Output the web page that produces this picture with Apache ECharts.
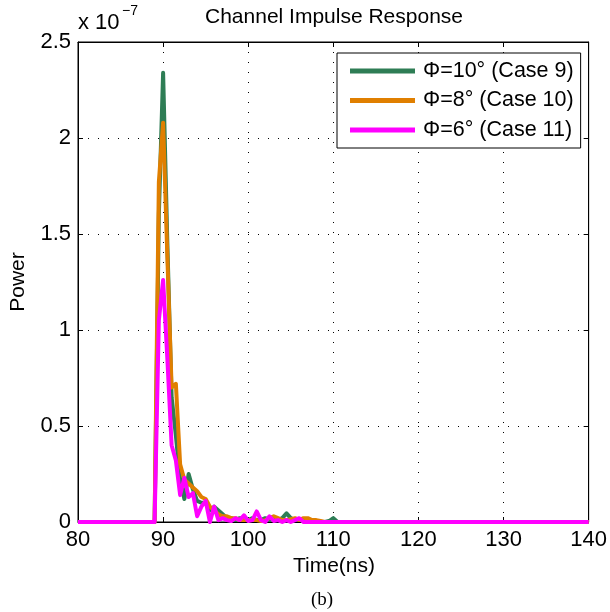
<!DOCTYPE html>
<html>
<head>
<meta charset="utf-8">
<script src="https://cdn.jsdelivr.net/npm/echarts@6/dist/echarts.min.js"></script>
<style>html,body{margin:0;padding:0;background:#fff}#chart{width:610px;height:612px}</style>
</head>
<body>
<div id="chart"></div>
<script>
// Time (ns)
const times = [80, 89, 89.5, 90, 90.5, 91, 91.5, 92, 92.5, 93, 93.5, 94, 94.5, 95, 95.5, 96, 96.5, 97, 97.5, 98, 98.5, 99, 99.5, 100, 100.5, 101, 101.5, 102, 102.5, 103, 103.5, 104, 104.5, 105, 105.5, 106, 106.5, 107, 107.5, 108, 108.5, 109, 109.5, 110, 110.5, 111, 140];
// Power in units of 1e-7
const case9 = [0, 0, 1.60, 2.34, 1.45, 0.65, 0.45, 0.22, 0.12, 0.25, 0.17, 0.11, 0.10, 0.10, 0.06, 0.08, 0.06, 0.04, 0.02, 0.02, 0.01, 0.02, 0.01, 0.01, 0.02, 0.01, 0.01, 0.02, 0.01, 0.02, 0.01, 0.02, 0.045, 0.02, 0.01, 0.01, 0.01, 0.01, 0.01, 0, 0, 0, 0.005, 0.02, 0, 0, 0];
const case10 = [0, 0, 1.77, 2.08, 1.38, 0.70, 0.72, 0.30, 0.22, 0.20, 0.18, 0.16, 0.13, 0.12, 0.08, 0.06, 0.04, 0.03, 0.03, 0.02, 0.02, 0.01, 0.01, 0.01, 0.01, 0.01, 0.005, 0.01, 0.02, 0.03, 0.02, 0.01, 0.01, 0.015, 0.02, 0.01, 0.02, 0.02, 0.01, 0.01, 0.005, 0, 0, 0, 0, 0, 0];
const case11 = [0, 0, 1.05, 1.26, 0.85, 0.40, 0.32, 0.14, 0.23, 0.13, 0.15, 0.03, 0.08, 0.11, 0.0, 0.08, 0.01, 0.02, 0.01, 0.005, 0.02, 0.01, 0.035, 0.005, 0.01, 0.055, 0.01, 0, 0.03, 0.005, 0.01, 0, 0.01, 0, 0.01, 0.02, 0, 0, 0, 0, 0, 0, 0, 0, 0, 0, 0];
const seriesNames = ['\u03A6=10\u00B0 (Case 9)', '\u03A6=8\u00B0 (Case 10)', '\u03A6=6\u00B0 (Case 11)'];
const xTicks = [80, 90, 100, 110, 120, 130, 140];
const yTicks = [0, 0.5, 1, 1.5, 2, 2.5];

const colors = ['#2E7D55', '#E07F00', '#FF00FF'];
const FONT = 'Liberation Sans, Arial, Helvetica, sans-serif';
const chart = echarts.init(document.getElementById('chart'), null, {renderer: 'canvas'});

const xMin = xTicks[0], xMax = xTicks[xTicks.length - 1], xInt = xTicks[1] - xTicks[0];
const yMin = yTicks[0], yMax = yTicks[yTicks.length - 1], yInt = yTicks[1] - yTicks[0];

const dotted = {show: true, lineStyle: {color: '#000', width: 1, type: [1, 9]}};
function axisBase(extra) {
  return Object.assign({
    type: 'value',
    axisLine: {show: true, onZero: false, lineStyle: {color: '#000', width: 1}},
    axisTick: {show: true, inside: true, length: 5, lineStyle: {color: '#000'}},
    axisLabel: {color: '#000', fontSize: 22, fontFamily: FONT},
  }, extra);
}

const option = {
  animation: false,
  backgroundColor: '#fff',
  grid: {left: 78, right: 20, top: 42, bottom: 90, show: true, borderColor: '#000', borderWidth: 1, backgroundColor: 'transparent'},
  xAxis: [
    axisBase({min: xMin, max: xMax, interval: xInt, position: 'bottom', splitLine: dotted, axisLabel: {color: '#000', fontSize: 22, fontFamily: FONT, margin: 7}}),
    axisBase({min: xMin, max: xMax, interval: xInt, position: 'top', splitLine: {show: false}, axisLabel: {show: false}})
  ],
  yAxis: [
    axisBase({min: yMin, max: yMax, interval: yInt, position: 'left', splitLine: dotted, axisLabel: {color: '#000', fontSize: 22, fontFamily: FONT, margin: 7}}),
    axisBase({min: yMin, max: yMax, interval: yInt, position: 'right', splitLine: {show: false}, axisLabel: {show: false}})
  ],
  legend: {
    left: 337, top: 53,
    orient: 'vertical',
    backgroundColor: '#fff',
    borderColor: '#000', borderWidth: 1,
    padding: [7, 7, 7, 13],
    itemWidth: 65, itemHeight: 5, itemGap: 7.5,
    icon: 'rect',
    textStyle: {color: '#000', fontSize: 21.5, fontFamily: FONT, lineHeight: 22, padding: [0, 0, 0, 3]},
    data: seriesNames
  },
  series: [case9, case10, case11].map((vals, k) => ({
    name: seriesNames[k],
    type: 'line',
    xAxisIndex: 0, yAxisIndex: 0,
    showSymbol: false, symbol: 'none',
    lineStyle: {color: colors[k], width: 4, join: 'round'},
    itemStyle: {color: colors[k]},
    data: times.map((t, i) => [t, vals[i]]),
    z: 3 + k
  })),
  graphic: [
    {type: 'text', x: 334, y: 17.5, style: {text: 'Channel Impulse Response', fontSize: 21, fontFamily: FONT, fill: '#000', align: 'center', verticalAlign: 'middle'}},
    {type: 'text', x: 78, y: 23, style: {text: 'x 10', fontSize: 22, fontFamily: FONT, fill: '#000', verticalAlign: 'middle'}},
    {type: 'text', x: 122, y: 11, style: {text: '\u22127', fontSize: 14, fontFamily: FONT, fill: '#000', verticalAlign: 'middle'}},
    {type: 'text', x: 8, y: 282, rotation: Math.PI / 2, style: {text: 'Power', fontSize: 21, fontFamily: FONT, fill: '#000', align: 'center', verticalAlign: 'top'}},
    {type: 'text', x: 334, y: 566, style: {text: 'Time(ns)', fontSize: 21, fontFamily: FONT, fill: '#000', align: 'center', verticalAlign: 'middle'}},
    {type: 'text', x: 322, y: 600, style: {text: '(b)', fontSize: 19, fontFamily: 'Liberation Serif, Times New Roman, serif', fill: '#000', align: 'center', verticalAlign: 'middle'}}
  ]
};
chart.setOption(option);
</script>
</body>
</html>
